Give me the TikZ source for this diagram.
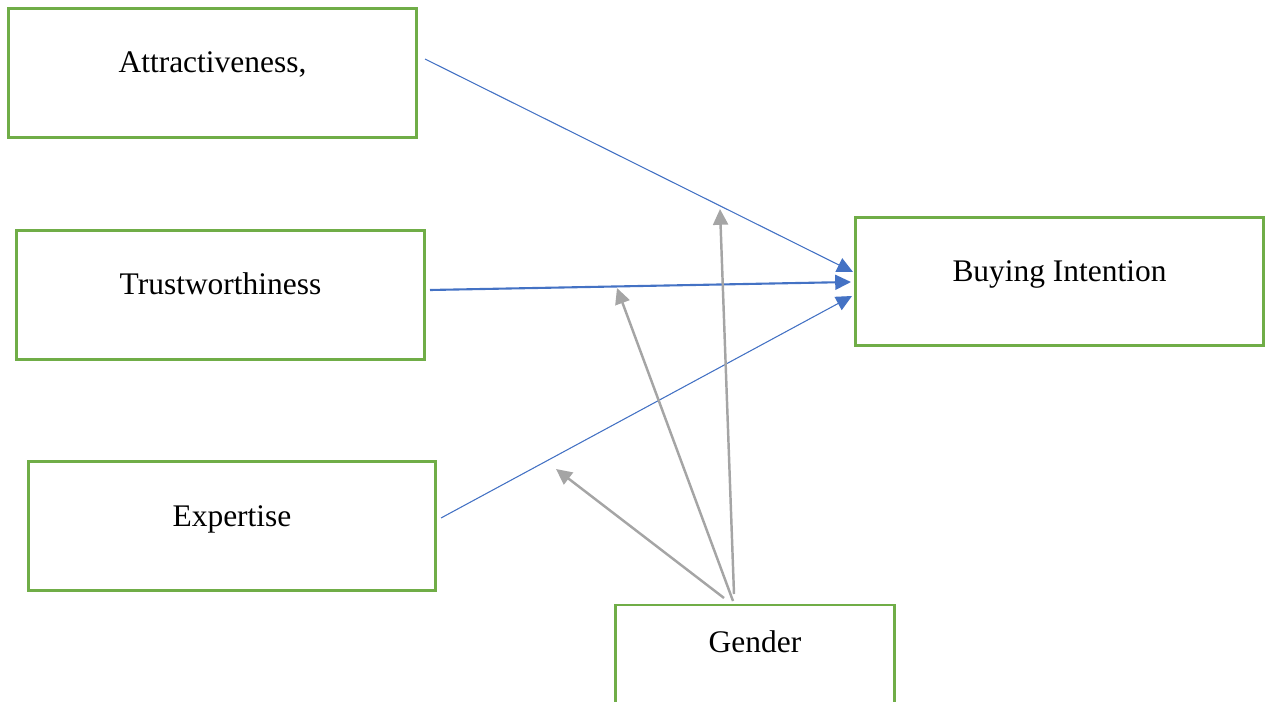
\documentclass[tikz,border=0pt]{standalone}
\usepackage{fontspec}
\setmainfont{Liberation Serif}
\usepackage{tikz}
\usetikzlibrary{arrows.meta,calc,positioning}

\definecolor{boxgreen}{HTML}{70AD47}
\definecolor{linkblue}{HTML}{4472C4}
\definecolor{modgray}{HTML}{A5A5A5}

\begin{document}
\begin{tikzpicture}[x=0.02cm,y=-0.02cm,>={Triangle[length=9pt,width=8.5pt]}]
\tikzstyle{block} = [draw=boxgreen, line width=1.7pt, rectangle, minimum width=8.16cm, minimum height=2.58cm, font=\fontsize{17.9}{21}\selectfont, text height=9pt, text depth=9pt]
\tikzstyle{link} = [draw=linkblue, fill=linkblue, line width=0.6pt]
\tikzstyle{mod} = [draw=modgray, fill=modgray, line width=1.4pt]

\useasboundingbox (0,0) rectangle (1271,702);
\clip (0,0) rectangle (1271,702);

\node [block] (attr) at (212.5,73) {Attractiveness,};
\node [block] (trust) at (220.5,295) {Trustworthiness};
\node [block] (expert) at (232,526) {Expertise};
\node [block] (buy) at (1059.5,281.5) {Buying Intention};
\node [block, minimum width=5.6cm, minimum height=2.2cm, anchor=north, text depth=17pt] (gender) at (755,603.5) {Gender};

% free ends of the paths
\node [coordinate] (a1) at (425,59) {};
\node [coordinate] (t1) at (430,290) {};
\node [coordinate] (e1) at (441,518) {};
\node [coordinate] (b1) at (853,272) {};
\node [coordinate] (b2) at (851,282) {};
\node [coordinate] (b3) at (852,296) {};

\node [coordinate] (g1) at (724,598) {};
\node [coordinate] (g2) at (733,601) {};
\node [coordinate] (g3) at (734,594) {};
\node [coordinate] (m1) at (556,469) {};
\node [coordinate] (m2) at (617,288) {};
\node [coordinate] (m3) at (720,209) {};

\draw [->, link] (a1) -- (b1);
\draw [->, link, line width=1.2pt] (t1) -- (b2);
\draw [->, link] (e1) -- (b3);

\draw [->, mod] (g1) -- (m1);
\draw [->, mod] (g2) -- (m2);
\draw [->, mod] (g3) -- (m3);
\end{tikzpicture}
\end{document}
